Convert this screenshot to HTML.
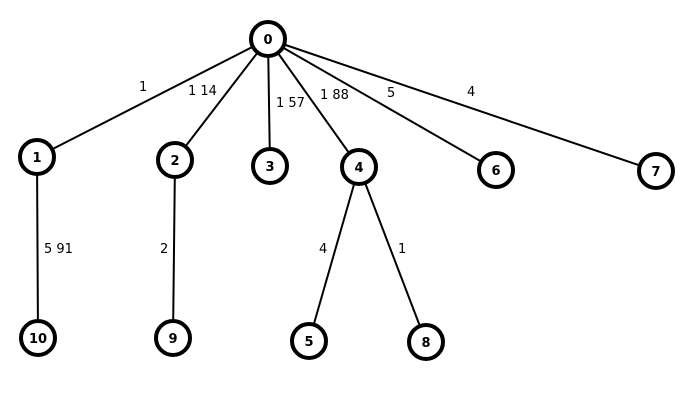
<!DOCTYPE html>
<html><head><style>body{margin:0;background:#fff}svg{display:block}</style></head><body>
<svg width="683" height="400" xmlns="http://www.w3.org/2000/svg" font-family="DejaVu Sans, sans-serif">
<g stroke="#000" stroke-width="2">
<line x1="268" y1="39" x2="37" y2="157"/>
<line x1="268" y1="39" x2="175" y2="160"/>
<line x1="268" y1="39" x2="270" y2="166"/>
<line x1="268" y1="39" x2="359" y2="167"/>
<line x1="268" y1="39" x2="496" y2="170"/>
<line x1="268" y1="39" x2="656" y2="171"/>
<line x1="37" y1="157" x2="38" y2="338"/>
<line x1="175" y1="160" x2="173" y2="338"/>
<line x1="359" y1="167" x2="309" y2="341"/>
<line x1="359" y1="167" x2="426" y2="342"/>
</g>
<g font-size="13" fill="#000">
<text x="139" y="91">1</text>
<text x="188" y="95">1 14</text>
<text x="276" y="107">1 57</text>
<text x="320" y="99">1 88</text>
<text x="387" y="97">5</text>
<text x="467" y="96">4</text>
<text x="44" y="253">5 91</text>
<text x="160" y="253">2</text>
<text x="319" y="253">4</text>
<text x="398" y="253">1</text>
</g>
<g fill="#fff" stroke="#000" stroke-width="4">
<circle cx="268" cy="39" r="17"/>
<circle cx="37" cy="157" r="17"/>
<circle cx="175" cy="160" r="17"/>
<circle cx="270" cy="166" r="17"/>
<circle cx="359" cy="167" r="17"/>
<circle cx="496" cy="170" r="17"/>
<circle cx="656" cy="171" r="17"/>
<circle cx="38" cy="338" r="17"/>
<circle cx="173" cy="338" r="17"/>
<circle cx="309" cy="341" r="17"/>
<circle cx="426" cy="342" r="17"/>
</g>
<g font-size="13" font-weight="bold" text-anchor="middle" fill="#000">
<text x="268" y="44">0</text>
<text x="37" y="162">1</text>
<text x="175" y="165">2</text>
<text x="270" y="171">3</text>
<text x="359" y="172">4</text>
<text x="496" y="175">6</text>
<text x="656" y="176">7</text>
<text x="38" y="343">10</text>
<text x="173" y="343">9</text>
<text x="309" y="346">5</text>
<text x="426" y="347">8</text>
</g>
</svg>
</body></html>
